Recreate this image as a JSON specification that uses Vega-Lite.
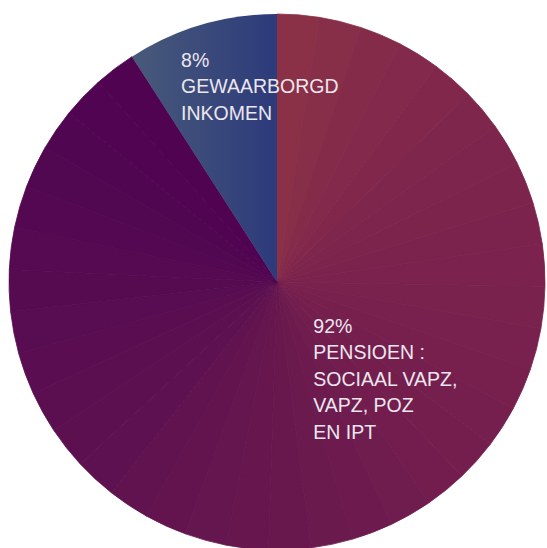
{
  "$schema": "https://vega.github.io/schema/vega-lite/v6.json",
  "width": 536,
  "height": 536,
  "autosize": {"type": "none"},
  "padding": {"left": 9, "top": 14, "right": 2, "bottom": 0},
  "background": "white",
  "view": {"stroke": null},
  "datasets": {
    "wedges": [
      {"part": "pensioen", "seg": 1, "share": 2.525},
      {"part": "pensioen", "seg": 2, "share": 2.525},
      {"part": "pensioen", "seg": 3, "share": 2.525},
      {"part": "pensioen", "seg": 4, "share": 2.525},
      {"part": "pensioen", "seg": 5, "share": 2.525},
      {"part": "pensioen", "seg": 6, "share": 2.525},
      {"part": "pensioen", "seg": 7, "share": 2.525},
      {"part": "pensioen", "seg": 8, "share": 2.525},
      {"part": "pensioen", "seg": 9, "share": 2.525},
      {"part": "pensioen", "seg": 10, "share": 2.525},
      {"part": "pensioen", "seg": 11, "share": 2.525},
      {"part": "pensioen", "seg": 12, "share": 2.525},
      {"part": "pensioen", "seg": 13, "share": 2.525},
      {"part": "pensioen", "seg": 14, "share": 2.525},
      {"part": "pensioen", "seg": 15, "share": 2.525},
      {"part": "pensioen", "seg": 16, "share": 2.525},
      {"part": "pensioen", "seg": 17, "share": 2.525},
      {"part": "pensioen", "seg": 18, "share": 2.525},
      {"part": "pensioen", "seg": 19, "share": 2.525},
      {"part": "pensioen", "seg": 20, "share": 2.525},
      {"part": "pensioen", "seg": 21, "share": 2.525},
      {"part": "pensioen", "seg": 22, "share": 2.525},
      {"part": "pensioen", "seg": 23, "share": 2.525},
      {"part": "pensioen", "seg": 24, "share": 2.525},
      {"part": "pensioen", "seg": 25, "share": 2.525},
      {"part": "pensioen", "seg": 26, "share": 2.525},
      {"part": "pensioen", "seg": 27, "share": 2.525},
      {"part": "pensioen", "seg": 28, "share": 2.525},
      {"part": "pensioen", "seg": 29, "share": 2.525},
      {"part": "pensioen", "seg": 30, "share": 2.525},
      {"part": "pensioen", "seg": 31, "share": 2.525},
      {"part": "pensioen", "seg": 32, "share": 2.525},
      {"part": "pensioen", "seg": 33, "share": 2.525},
      {"part": "pensioen", "seg": 34, "share": 2.525},
      {"part": "pensioen", "seg": 35, "share": 2.525},
      {"part": "pensioen", "seg": 36, "share": 2.525},
      {"part": "gewaarborgd", "seg": 37, "share": 9.1}
    ],
    "labels": [
      {"part": "pensioen", "order": 1, "share": 90.9, "label": ["92%", "PENSIOEN :", "SOCIAAL VAPZ,", "VAPZ, POZ", "EN IPT"]},
      {"part": "gewaarborgd", "order": 2, "share": 9.1, "label": ["8%", "GEWAARBORGD", "INKOMEN"]}
    ]
  },
  "layer": [
    {
      "data": {"name": "wedges"},
      "mark": {"type": "arc", "strokeWidth": 0.8},
      "encoding": {
        "theta": {"field": "share", "type": "quantitative", "stack": true},
        "order": {"field": "seg", "type": "quantitative", "sort": "ascending"},
        "color": {
          "condition": {
            "test": "datum.part === 'gewaarborgd'",
            "value": {
              "gradient": "linear",
              "x1": 0, "y1": 0, "x2": 1, "y2": 0,
              "stops": [
                {"offset": 0, "color": "#485a7a"},
                {"offset": 1, "color": "#2d3a7b"}
              ]
            }
          },
          "field": "seg",
          "type": "ordinal",
          "scale": {
            "domain": [1, 2, 3, 4, 5, 6, 7, 8, 9, 10, 11, 12, 13, 14, 15, 16, 17, 18, 19, 20, 21, 22, 23, 24, 25, 26, 27, 28, 29, 30, 31, 32, 33, 34, 35, 36, 37],
            "range": ["#8a3148", "#872e49", "#852b4a", "#83294b", "#81274c", "#7f264c", "#7e254d", "#7d244d", "#7c234d", "#7b224e", "#7a224e", "#78214e", "#77204e", "#751f4e", "#741e4e", "#721d4e", "#6f1c4e", "#6d1b4e", "#6b1a4e", "#69184e", "#67174e", "#65164f", "#63144f", "#60134f", "#5e1150", "#5d1050", "#5b0f50", "#5a0e51", "#580c51", "#560b51", "#550a51", "#540851", "#520751", "#510651", "#500451", "#4f0351", "#2d3a7b"]
          },
          "legend": null
        },
        "stroke": {
          "condition": {"test": "datum.part === 'gewaarborgd'", "value": null},
          "field": "seg",
          "type": "ordinal",
          "scale": {
            "domain": [1, 2, 3, 4, 5, 6, 7, 8, 9, 10, 11, 12, 13, 14, 15, 16, 17, 18, 19, 20, 21, 22, 23, 24, 25, 26, 27, 28, 29, 30, 31, 32, 33, 34, 35, 36, 37],
            "range": ["#8a3148", "#872e49", "#852b4a", "#83294b", "#81274c", "#7f264c", "#7e254d", "#7d244d", "#7c234d", "#7b224e", "#7a224e", "#78214e", "#77204e", "#751f4e", "#741e4e", "#721d4e", "#6f1c4e", "#6d1b4e", "#6b1a4e", "#69184e", "#67174e", "#65164f", "#63144f", "#60134f", "#5e1150", "#5d1050", "#5b0f50", "#5a0e51", "#580c51", "#560b51", "#550a51", "#540851", "#520751", "#510651", "#500451", "#4f0351", "#2d3a7b"]
          },
          "legend": null
        }
      }
    },
    {
      "data": {"name": "labels"},
      "mark": {"type": "text", "radius": 224.4, "dx": -32.6, "align": "left", "baseline": "alphabetic", "font": "Liberation Sans", "fontSize": 19.5, "lineHeight": 26.5, "color": "#ece6ee"},
      "encoding": {
        "theta": {"field": "share", "type": "quantitative", "stack": true},
        "order": {"field": "order", "type": "quantitative", "sort": "ascending"},
        "text": {"field": "label", "type": "nominal"},
        "opacity": {"condition": {"test": "datum.part === 'gewaarborgd'", "value": 1}, "value": 0}
      }
    },
    {
      "data": {"name": "labels"},
      "mark": {"type": "text", "radius": 52.8, "dx": 21.4, "align": "left", "baseline": "alphabetic", "font": "Liberation Sans", "fontSize": 19.5, "lineHeight": 26.5, "color": "#ece6ee"},
      "encoding": {
        "theta": {"field": "share", "type": "quantitative", "stack": true},
        "order": {"field": "order", "type": "quantitative", "sort": "ascending"},
        "text": {"field": "label", "type": "nominal"},
        "opacity": {"condition": {"test": "datum.part === 'pensioen'", "value": 1}, "value": 0}
      }
    }
  ]
}
